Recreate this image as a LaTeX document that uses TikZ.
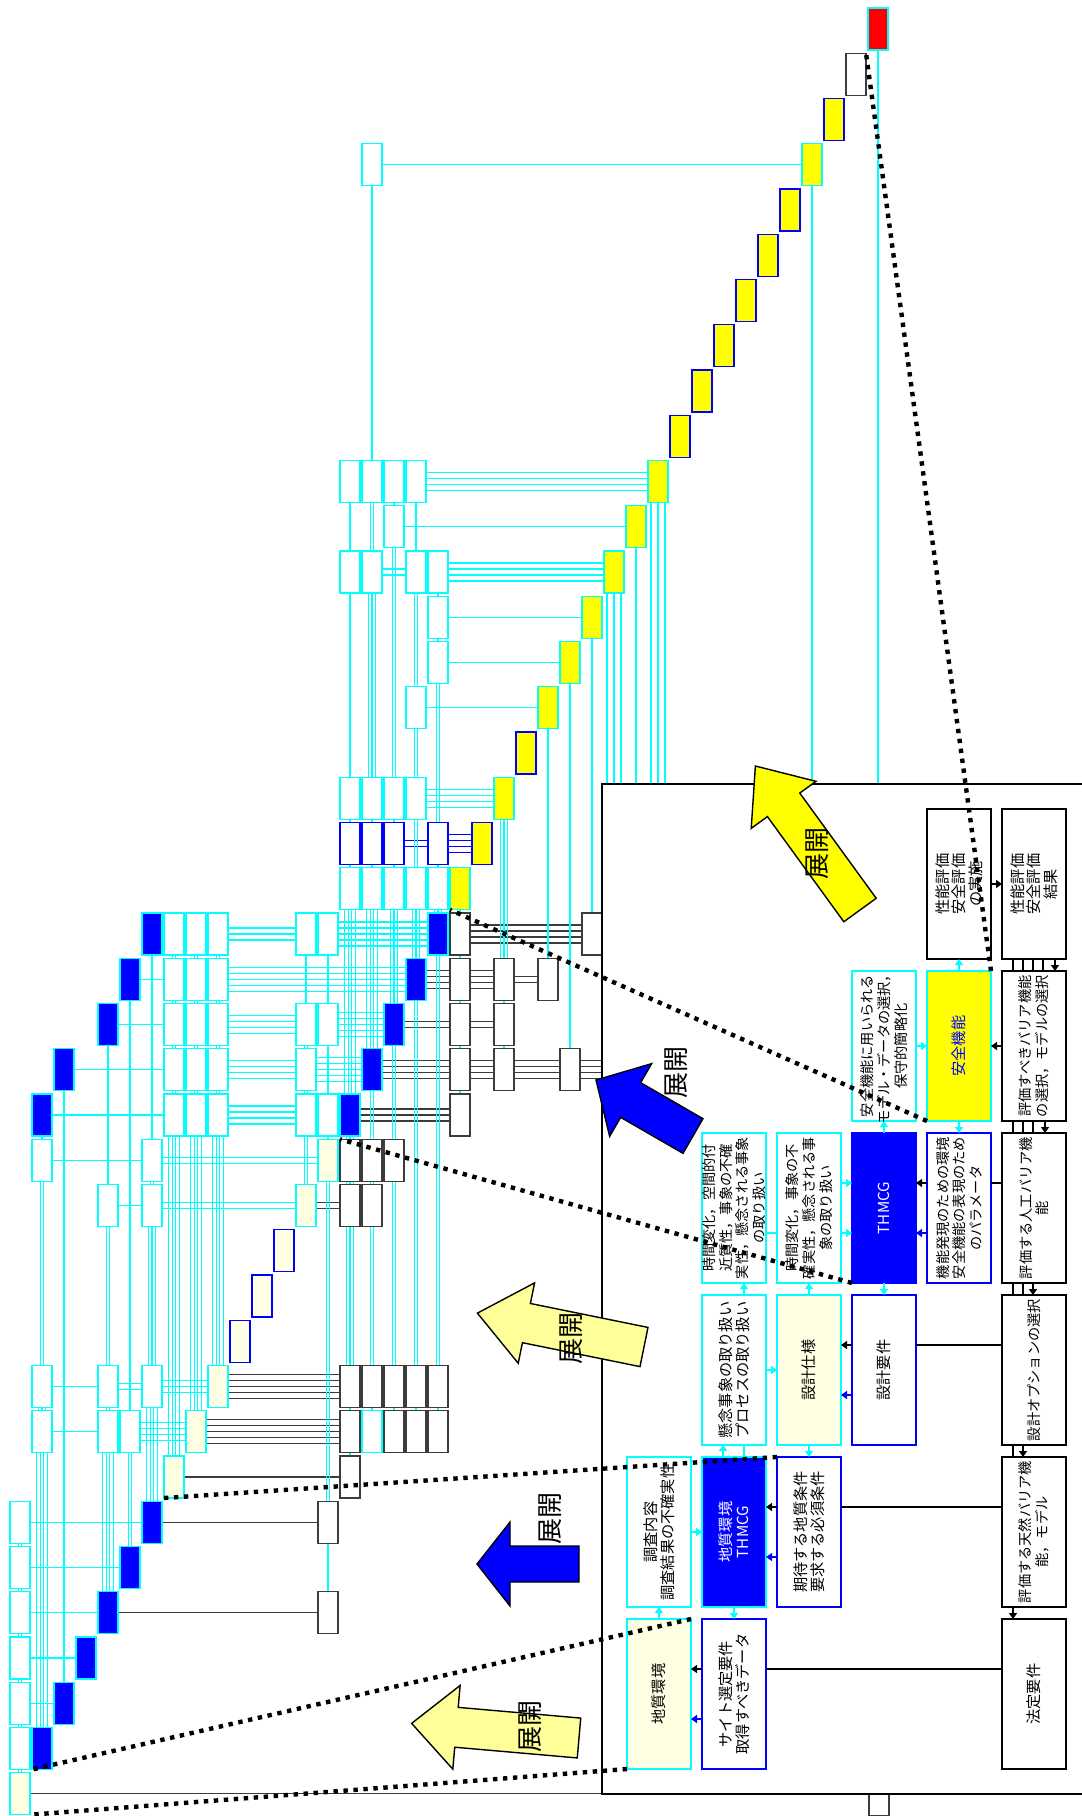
\documentclass[tikz,border=0pt]{standalone}
\usepackage{fontspec}
\newfontfamily\jp{Noto Sans CJK JP}
\usetikzlibrary{arrows.meta,calc}
\pgfdeclarelayer{bg}
\pgfsetlayers{bg,main}
\definecolor{cy}{RGB}{0,255,255}
\definecolor{bl}{RGB}{0,0,255}
\definecolor{ye}{RGB}{255,255,0}
\definecolor{lye}{RGB}{255,255,228}
\definecolor{pye}{RGB}{255,255,153}
\definecolor{kg}{RGB}{60,60,60}
\tikzset{
 sm/.style={draw, minimum width=10pt, minimum height=21pt, inner sep=0pt, outer sep=0pt, line width=0.6pt},
 sW/.style={draw=cy, fill=white},
 sB/.style={draw=cy, fill=bl},
 sLY/.style={draw=cy, fill=lye},
 sLYB/.style={draw=bl, fill=lye},
 sY/.style={draw=cy, fill=ye},
 sYB/.style={draw=bl, fill=ye},
 sK/.style={draw=kg, fill=white},
 sBB/.style={draw=bl, fill=white},
 sR/.style={draw=cy, fill=red},
 cl/.style={cy, line width=0.55pt},
 kl/.style={kg, line width=0.55pt},
 blu/.style={bl, line width=0.55pt},
 mb/.style={minimum width=32pt, minimum height=75pt, inner sep=0pt, outer sep=0pt, line width=1.1pt},
 mt/.style={rotate=90, align=center, font=\jp\fontsize{7.6}{8.3}\selectfont, inner sep=0pt},
 mts/.style={rotate=90, align=center, font=\jp\fontsize{7.1}{8.3}\selectfont, inner sep=0pt},
 bigt/.style={rotate=90, font=\jp\fontsize{13}{13}\selectfont, inner sep=0pt},
 ca/.style={cy, line width=1.1pt, -{Triangle[length=3pt,width=4pt]}},
 cth/.style={cy, line width=1.1pt},
 ka/.style={black, line width=1.1pt, -{Triangle[length=3pt,width=4pt]}},
 ba/.style={bl, line width=1.1pt, -{Triangle[length=3pt,width=4pt]}},
 kth/.style={black, line width=1.4pt},
 zoomline/.style={black, line width=2.2pt, dash pattern=on 2.2pt off 2.8pt}
}
\newcommand{\grbox}[3]{\node[sm,#3] (s#1r#2) at ({20+22*#1},{45.25*#2+29}) {};}
\newcommand{\hcon}[5]{\foreach \i in {1,...,#4}{\pgfmathsetmacro{\dy}{(\i-(#4+1)/2)*6}\draw[#5] ($(s#1r#3.east)+(0,\dy)$) -- ($(s#2r#3.west)+(0,\dy)$);}}
\newcommand{\vcon}[4]{\foreach \i in {1,...,#4}{\pgfmathsetmacro{\dx}{(\i-(#4+1)/2)*3.5}\draw[cl] ($(s#1r#2.south)+(\dx,0)$) -- ($(s#1r#3.north)+(\dx,0)$);}}
\newcommand{\fcon}[3]{\foreach \i in {1,...,#3}{\pgfmathsetmacro{\dx}{(\i-(#3+1)/2)*7}\draw[cl] ($(s#1r#2.south)+(\dx,0)$) -- ($(s#1r#2.south |- ftop)+(\dx,0)$);}}
\newcommand{\bigarrow}[7]{\begin{scope}[shift={#1},rotate=#2]\draw[fill=#7,line width=0.7pt,line join=miter] (0,{-#5}) -- ({#3-#4},{-#5}) -- ({#3-#4},{-#6}) -- (#3,0) -- ({#3-#4},#6) -- ({#3-#4},#5) -- (0,#5) -- cycle;\end{scope}}
\begin{document}
\begin{tikzpicture}[x=0.5pt,y=-0.5pt]
\useasboundingbox (0,0) rectangle (1082,1816);
\begin{pgfonlayer}{bg}
\fill[white] (0,0) rectangle (1082,1816);
\end{pgfonlayer}
\coordinate (ftop) at (0,784);
\coordinate (fleft) at (602,0);
\foreach \yy in {1669,1719,1507,1557,1345,1395,1233,1183} {\coordinate (h\yy) at (0,\yy);}
\foreach \xx in {723,744,1013,1023,1033,1043,1045,1055} {\coordinate (v\xx) at (\xx,0);}

% ---- small boxes: left column
\foreach \r in {33,...,38} {\grbox{0}{\r}{sW}}
\grbox{0}{39}{sLY}
% diagonal
\grbox{1}{38}{sB}\grbox{2}{37}{sB}\grbox{3}{36}{sB}\grbox{4}{35}{sB}\grbox{5}{34}{sB}\grbox{6}{33}{sB}
\grbox{7}{32}{sLY}\grbox{8}{31}{sLY}\grbox{9}{30}{sLY}\grbox{10}{29}{sLYB}\grbox{11}{28}{sLYB}\grbox{12}{27}{sLYB}
\grbox{13}{26}{sLY}\grbox{14}{25}{sLY}
\grbox{15}{24}{sB}\grbox{16}{23}{sB}\grbox{17}{22}{sB}\grbox{18}{21}{sB}\grbox{19}{20}{sB}
\grbox{20}{19}{sY}\grbox{21}{18}{sYB}\grbox{22}{17}{sY}\grbox{23}{16}{sYB}
\grbox{24}{15}{sY}\grbox{25}{14}{sY}\grbox{26}{13}{sY}\grbox{27}{12}{sY}\grbox{28}{11}{sY}\grbox{29}{10}{sY}
\grbox{30}{9}{sYB}\grbox{31}{8}{sYB}\grbox{32}{7}{sYB}\grbox{33}{6}{sYB}\grbox{34}{5}{sYB}\grbox{35}{4}{sYB}
\grbox{36}{3}{sY}\grbox{37}{2}{sYB}\grbox{38}{1}{sK}\grbox{39}{0}{sR}
% off-diagonal
\grbox{1}{24}{sB}\grbox{2}{23}{sB}\grbox{4}{22}{sB}\grbox{5}{21}{sB}\grbox{6}{20}{sB}
\grbox{1}{25}{sW}\grbox{1}{30}{sW}\grbox{1}{31}{sW}
\grbox{4}{26}{sW}\grbox{4}{30}{sW}\grbox{4}{31}{sW}\grbox{5}{31}{sW}
\grbox{6}{25}{sW}\grbox{6}{26}{sW}\grbox{6}{30}{sW}
\foreach \k in {7,8,9} {\foreach \r in {20,...,24} {\grbox{\k}{\r}{sW}}}
\grbox{13}{20}{sW}\grbox{13}{22}{sW}\grbox{13}{23}{sW}\grbox{13}{24}{sW}
\grbox{14}{20}{sW}\grbox{14}{22}{sW}\grbox{14}{24}{sW}\grbox{14}{33}{sK}\grbox{14}{35}{sK}
\grbox{15}{10}{sW}\grbox{15}{12}{sW}\grbox{15}{17}{sW}\grbox{15}{18}{sBB}\grbox{15}{19}{sW}
\grbox{15}{25}{sK}\grbox{15}{26}{sK}\grbox{15}{30}{sK}\grbox{15}{31}{sK}\grbox{15}{32}{sK}
\grbox{16}{3}{sW}\grbox{16}{10}{sW}\grbox{16}{12}{sW}\grbox{16}{17}{sW}\grbox{16}{18}{sBB}\grbox{16}{19}{sW}
\grbox{16}{25}{sK}\grbox{16}{26}{sK}\grbox{16}{30}{sK}\grbox{16}{31}{sW}
\grbox{17}{10}{sW}\grbox{17}{11}{sW}\grbox{17}{17}{sW}\grbox{17}{18}{sBB}\grbox{17}{19}{sW}
\grbox{17}{25}{sK}\grbox{17}{30}{sK}\grbox{17}{31}{sK}
\grbox{18}{10}{sW}\grbox{18}{12}{sW}\grbox{18}{15}{sW}\grbox{18}{17}{sW}\grbox{18}{19}{sW}\grbox{18}{30}{sK}\grbox{18}{31}{sK}
\grbox{19}{12}{sW}\grbox{19}{13}{sW}\grbox{19}{14}{sW}\grbox{19}{18}{sBB}\grbox{19}{19}{sW}\grbox{19}{30}{sK}\grbox{19}{31}{sK}
\foreach \r in {20,...,24} {\grbox{20}{\r}{sK}}
\grbox{22}{21}{sK}\grbox{22}{22}{sK}\grbox{22}{23}{sK}
\grbox{24}{21}{sK}\grbox{25}{23}{sK}\grbox{26}{20}{sK}
\node[sm,sK,minimum height=10.5pt] (s39r39) at (879,1805) {};

\begin{pgfonlayer}{bg}
% horizontal connectors
\hcon{0}{6}{33}{1}{cl}\hcon{0}{5}{34}{1}{cl}\hcon{0}{4}{35}{1}{cl}\hcon{0}{3}{36}{1}{cl}\hcon{0}{2}{37}{1}{cl}\hcon{0}{1}{38}{1}{cl}
\hcon{6}{14}{33}{1}{kl}\hcon{4}{14}{35}{1}{kl}
\draw[kl] (s0r39.east) -- (s0r39.east -| s39r39.west);
\hcon{7}{15}{32}{1}{kl}
\hcon{1}{4}{31}{1}{cl}\hcon{4}{5}{31}{1}{cl}\hcon{5}{8}{31}{4}{cl}\hcon{8}{15}{31}{5}{kl}
\hcon{15}{16}{31}{1}{kl}\hcon{16}{17}{31}{1}{kl}\hcon{17}{18}{31}{1}{kl}\hcon{18}{19}{31}{1}{kl}
\hcon{1}{4}{30}{1}{cl}\hcon{4}{6}{30}{2}{cl}\hcon{6}{9}{30}{3}{cl}\hcon{9}{15}{30}{5}{kl}
\hcon{15}{16}{30}{1}{kl}\hcon{16}{17}{30}{1}{kl}\hcon{17}{18}{30}{1}{kl}\hcon{18}{19}{30}{1}{kl}
\hcon{4}{6}{26}{1}{cl}\hcon{6}{13}{26}{2}{cl}\hcon{13}{15}{26}{2}{kl}\hcon{15}{16}{26}{1}{kl}
\hcon{1}{6}{25}{1}{cl}\hcon{6}{14}{25}{2}{cl}\hcon{14}{15}{25}{3}{kl}\hcon{15}{16}{25}{1}{kl}\hcon{16}{17}{25}{1}{kl}
\hcon{1}{7}{24}{1}{cl}\hcon{7}{8}{24}{2}{cl}\hcon{8}{9}{24}{3}{cl}\hcon{9}{13}{24}{4}{cl}\hcon{13}{14}{24}{4}{cl}\hcon{14}{15}{24}{4}{cl}\hcon{15}{20}{24}{3}{kl}
\hcon{2}{7}{23}{1}{cl}\hcon{7}{8}{23}{2}{cl}\hcon{8}{9}{23}{3}{cl}\hcon{9}{13}{23}{4}{cl}\hcon{13}{16}{23}{5}{cl}\hcon{16}{20}{23}{4}{kl}\hcon{20}{22}{23}{4}{kl}\hcon{22}{25}{23}{4}{kl}
\foreach \i in {1,...,4}{\pgfmathsetmacro{\dy}{(\i-2.5)*6}\draw[kl] ($(s25r23.east)+(0,\dy)$) -- ($(s25r23.east -| fleft)+(0,\dy)$);}
\hcon{4}{7}{22}{1}{cl}\hcon{7}{8}{22}{2}{cl}\hcon{8}{9}{22}{3}{cl}\hcon{9}{13}{22}{4}{cl}\hcon{13}{14}{22}{4}{cl}\hcon{14}{17}{22}{5}{cl}\hcon{17}{20}{22}{2}{kl}\hcon{20}{22}{22}{2}{kl}
\hcon{5}{7}{21}{1}{cl}\hcon{7}{8}{21}{2}{cl}\hcon{8}{9}{21}{3}{cl}\hcon{9}{18}{21}{5}{cl}\hcon{18}{20}{21}{4}{kl}\hcon{20}{22}{21}{4}{kl}\hcon{22}{24}{21}{2}{kl}
\hcon{6}{7}{20}{1}{cl}\hcon{7}{8}{20}{2}{cl}\hcon{8}{9}{20}{3}{cl}\hcon{9}{13}{20}{3}{cl}\hcon{13}{14}{20}{3}{cl}\hcon{14}{19}{20}{5}{cl}\hcon{19}{20}{20}{4}{kl}\hcon{20}{26}{20}{4}{kl}
\hcon{15}{16}{19}{1}{cl}\hcon{16}{17}{19}{1}{cl}\hcon{17}{18}{19}{1}{cl}\hcon{18}{19}{19}{1}{cl}\hcon{19}{20}{19}{5}{cl}
\hcon{15}{16}{18}{1}{blu}\hcon{16}{17}{18}{1}{blu}\hcon{17}{19}{18}{2}{blu}\hcon{19}{21}{18}{4}{blu}
\hcon{15}{16}{17}{1}{cl}\hcon{16}{17}{17}{1}{cl}\hcon{17}{18}{17}{1}{cl}\hcon{18}{22}{17}{4}{cl}
\hcon{18}{24}{15}{1}{cl}\hcon{19}{25}{14}{1}{cl}\hcon{19}{26}{13}{1}{cl}
\hcon{15}{16}{12}{1}{cl}\hcon{16}{18}{12}{2}{cl}\hcon{18}{19}{12}{3}{cl}\hcon{19}{27}{12}{4}{cl}
\hcon{17}{28}{11}{1}{cl}
\hcon{15}{16}{10}{1}{cl}\hcon{16}{17}{10}{2}{cl}\hcon{17}{18}{10}{3}{cl}\hcon{18}{29}{10}{4}{cl}
\hcon{16}{36}{3}{1}{cl}
% vertical connectors
\vcon{0}{33}{34}{2}\vcon{0}{34}{35}{2}\vcon{0}{35}{36}{2}\vcon{0}{36}{37}{2}\vcon{0}{37}{38}{2}\vcon{0}{38}{39}{2}
\vcon{1}{24}{25}{1}\vcon{1}{25}{30}{2}\vcon{1}{30}{31}{3}\vcon{1}{31}{38}{4}
\vcon{2}{23}{37}{1}
\vcon{4}{22}{26}{1}\vcon{4}{26}{30}{2}\vcon{4}{30}{31}{2}\vcon{4}{31}{35}{4}
\vcon{5}{21}{31}{1}\vcon{5}{31}{34}{2}
\vcon{6}{20}{25}{1}\vcon{6}{25}{26}{2}\vcon{6}{26}{30}{3}\vcon{6}{30}{33}{4}
\foreach \k in {7,8,9}{\vcon{\k}{20}{21}{2}\vcon{\k}{21}{22}{2}\vcon{\k}{22}{23}{2}\vcon{\k}{23}{24}{2}}
\vcon{7}{24}{32}{4}\vcon{8}{24}{31}{4}\vcon{9}{24}{30}{4}
\vcon{13}{20}{22}{1}\vcon{13}{22}{23}{2}\vcon{13}{23}{24}{2}\vcon{13}{24}{26}{2}
\vcon{14}{20}{22}{1}\vcon{14}{22}{24}{1}\vcon{14}{24}{25}{1}\vcon{14}{25}{33}{2}\vcon{14}{33}{35}{1}
\vcon{15}{10}{12}{1}\vcon{15}{12}{17}{1}\vcon{15}{17}{18}{1}\vcon{15}{18}{19}{1}\vcon{15}{19}{24}{4}\vcon{15}{24}{25}{3}\vcon{15}{25}{26}{3}\vcon{15}{26}{30}{3}\vcon{15}{30}{31}{1}\vcon{15}{31}{32}{1}
\vcon{16}{3}{10}{1}\vcon{16}{10}{12}{2}\vcon{16}{12}{17}{3}\vcon{16}{17}{18}{1}\vcon{16}{18}{19}{1}\vcon{16}{19}{23}{4}\vcon{16}{23}{25}{2}\vcon{16}{25}{26}{2}\vcon{16}{26}{30}{2}\vcon{16}{30}{31}{1}
\vcon{17}{10}{11}{1}\vcon{17}{11}{17}{2}\vcon{17}{17}{18}{1}\vcon{17}{18}{19}{1}\vcon{17}{19}{22}{3}\vcon{17}{22}{25}{2}\vcon{17}{25}{30}{2}\vcon{17}{30}{31}{1}
\vcon{18}{10}{12}{1}\vcon{18}{12}{15}{2}\vcon{18}{15}{17}{2}\vcon{18}{17}{19}{2}\vcon{18}{19}{21}{3}\vcon{18}{21}{30}{2}\vcon{18}{30}{31}{1}
\vcon{19}{12}{13}{1}\vcon{19}{13}{14}{1}\vcon{19}{14}{18}{2}\vcon{19}{18}{19}{1}\vcon{19}{19}{20}{3}\vcon{19}{20}{30}{2}\vcon{19}{30}{31}{1}
\vcon{20}{19}{20}{1}\vcon{20}{20}{21}{1}\vcon{20}{21}{22}{1}\vcon{20}{22}{23}{1}\vcon{20}{23}{24}{1}
\vcon{22}{17}{21}{3}\vcon{22}{21}{22}{1}\vcon{22}{22}{23}{1}
\vcon{24}{15}{21}{1}\vcon{25}{14}{23}{1}\vcon{26}{13}{20}{1}
\fcon{27}{12}{3}\fcon{28}{11}{1}\fcon{29}{10}{3}\fcon{36}{3}{1}\fcon{39}{0}{1}
\end{pgfonlayer}

% ---- main frame
\draw[line width=1.1pt] (1100,784) -- (602,784) -- (602,1794) -- (1100,1794);

% ---- main boxes
\node[mb, draw=cy, fill=lye] (a1) at (659,1694) {};
\node[mb, draw=bl, fill=white] (b1) at (734,1694) {};
\node[mb, draw=black, fill=white] (e1) at (1034,1694) {};
\node[mb, draw=cy, fill=white] (a2) at (659,1532) {};
\node[mb, draw=cy, fill=bl] (b2) at (734,1532) {};
\node[mb, draw=bl, fill=white] (c2) at (809,1532) {};
\node[mb, draw=black, fill=white] (e2) at (1034,1532) {};
\node[mb, draw=cy, fill=white] (b3) at (734,1370) {};
\node[mb, draw=cy, fill=lye] (c3) at (809,1370) {};
\node[mb, draw=bl, fill=white] (d3) at (884,1370) {};
\node[mb, draw=black, fill=white] (e3) at (1034,1370) {};
\node[mb, draw=cy, fill=white] (b4) at (734,1208) {};
\node[mb, draw=cy, fill=white] (c4) at (809,1208) {};
\node[mb, draw=bl, fill=bl] (d4) at (884,1208) {};
\node[mb, draw=bl, fill=white] (f4) at (959,1208) {};
\node[mb, draw=black, fill=white] (e4) at (1034,1208) {};
\node[mb, draw=cy, fill=white] (d5) at (884,1046) {};
\node[mb, draw=cy, fill=ye] (f5) at (959,1046) {};
\node[mb, draw=black, fill=white] (e5) at (1034,1046) {};
\node[mb, draw=black, fill=white] (f6) at (959,884) {};
\node[mb, draw=black, fill=white] (e6) at (1034,884) {};

\node[mt] (a1t) at (a1) {地質環境};
\node[mt] (b1t) at (b1) {サイト選定要件\\取得すべきデータ};
\node[mt] (e1t) at (e1) {法定要件};
\node[mt] (a2t) at (a2) {調査内容\\調査結果の不確実性};
\node[mt, text=white] (b2t) at (b2) {地質環境\\THMCG};
\node[mt] (c2t) at (c2) {期待する地質条件\\要求する必須条件};
\node[mts] (e2t) at (e2) {評価する天然バリア機\\能，モデル};
\node[mt] (b3t) at (b3) {懸念事象の取り扱い\\プロセスの取り扱い};
\node[mt] (c3t) at (c3) {設計仕様};
\node[mt] (d3t) at (d3) {設計要件};
\node[mts] (e3t) at (e3) {設計オプションの選択};
\node[mts] (b4t) at (b4) {時間変化，空間的付\\近質性，事象の不確\\実性，懸念される事象\\の取り扱い};
\node[mts] (c4t) at (c4) {時間変化，事象の不\\確実性，懸念される事\\象の取り扱い};
\node[mt, text=white] (d4t) at (d4) {THMCG};
\node[mts] (f4t) at (f4) {機能発現のための環境\\安全機能の表現のため\\のパラメータ};
\node[mts] (e4t) at (e4) {評価する人工バリア機\\能};
\node[mts] (d5t) at (d5) {安全機能に用いられる\\モデル・データの選択，\\保守的簡略化};
\node[mt, text=bl] (f5t) at (f5) {安全機能};
\node[mts] (e5t) at (e5) {評価すべきバリア機能\\の選択，モデルの選択};
\node[mt] (f6t) at (f6) {性能評価\\安全評価\\の実施};
\node[mt] (e6t) at (e6) {性能評価\\安全評価\\結果};

% ---- main connectors
\draw[kth] (e1.west |- h1669) -- (b1.east |- h1669);
\draw[ka] (b1.west |- h1669) -- (a1.east |- h1669);
\draw[ba] (b1.west |- h1719) -- (a1.east |- h1719);
\draw[ca] (a1.north) -- (a2.south);
\draw[ca] (b2.south) -- (b1.north);
\draw[ca] (a2.east) -- (b2.west);
\draw[kth] (e2.west |- h1507) -- (c2.east |- h1507);
\draw[ka] (c2.west |- h1507) -- (b2.east |- h1507);
\draw[ba] (c2.west |- h1557) -- (b2.east |- h1557);
\draw[ca] (b2.north -| v723) -- (b3.south -| v723);
\draw[cth] (b2.north -| v744) -- (b3.south -| v744);
\draw[ca] (c3.south) -- (c2.north);
\draw[ca] (b3.east) -- (c3.west);
\draw[kth] (e3.west |- h1345) -- (d3.east |- h1345);
\draw[ka] (d3.west |- h1345) -- (c3.east |- h1345);
\draw[ba] (d3.west |- h1395) -- (c3.east |- h1395);
\draw[ca] (b3.north -| v744) -- (b4.south -| v744);
\draw[ca] (c3.north) -- (c4.south);
\draw[ca] (d4.south) -- (d3.north);
\draw[cth] (b4.east |- h1233) -- (c4.west |- h1233);
\draw[ca] (c4.east |- h1183) -- (d4.west |- h1183);
\draw[ca] (c4.east |- h1233) -- (d4.west |- h1233);
\draw[kth] (e4.west |- h1183) -- (f4.east |- h1183);
\draw[ka] (f4.west |- h1183) -- (d4.east |- h1183);
\draw[ba] (f4.west |- h1233) -- (d4.east |- h1233);
\draw[ca] (d4.north) -- (d5.south);
\draw[ca] (f5.south) -- (f4.north);
\draw[ca] (d5.east) -- (f5.west);
\draw[ka] (e5.west) -- (f5.east);
\draw[ca] (f5.north) -- (f6.south);
\draw[ka] (f6.east) -- (e6.west);
% column E cascade
\foreach \v in {v1013,v1023,v1033,v1043} {\draw[kth] (e6.south -| \v) -- (e5.north -| \v);}
\draw[ka] (e6.south -| v1055) -- (e5.north -| v1055);
\foreach \v in {v1013,v1023,v1033} {\draw[kth] (e5.south -| \v) -- (e4.north -| \v);}
\draw[ka] (e5.south -| v1045) -- (e4.north -| v1045);
\foreach \v in {v1013,v1023} {\draw[kth] (e4.south -| \v) -- (e3.north -| \v);}
\draw[ka] (e4.south -| v1033) -- (e3.north -| v1033);
\draw[kth] (e3.south -| v1013) -- (e2.north -| v1013);
\draw[ka] (e3.south -| v1023) -- (e2.north -| v1023);
\draw[ka] (e2.south -| v1013) -- (e1.north -| v1013);

% ---- big arrows
\bigarrow{(860,910)}{126}{178}{48}{20}{40}{ye}
\bigarrow{(693,1136)}{150}{112}{40}{20}{42}{bl}
\bigarrow{(644,1347)}{168.5}{170}{50}{20}{41}{pye}
\bigarrow{(579,1564)}{180}{102}{33}{18}{42}{bl}
\bigarrow{(579,1738)}{175}{168}{45}{20}{42}{pye}
\node[bigt] (t5) at (817,853) {展開};
\node[bigt] (t4) at (676,1072) {展開};
\node[bigt] (t3) at (571,1338) {展開};
\node[bigt] (t2) at (550,1518) {展開};
\node[bigt] (t1) at (530,1726) {展開};

% ---- zoom lines
\draw[zoomline] (a1.north east) -- (s1r38.south west);
\draw[zoomline] (a1.south west) -- (s0r39.south east);
\draw[zoomline] (c2.north west) -- (s7r32.south west);
\draw[zoomline] (d4.south west) -- (s15r25.north west);
\draw[zoomline] (f5.south west) -- (s20r19.south west);
\draw[zoomline] (f5.north east) -- (s38r1.north east);
\end{tikzpicture}
\end{document}
